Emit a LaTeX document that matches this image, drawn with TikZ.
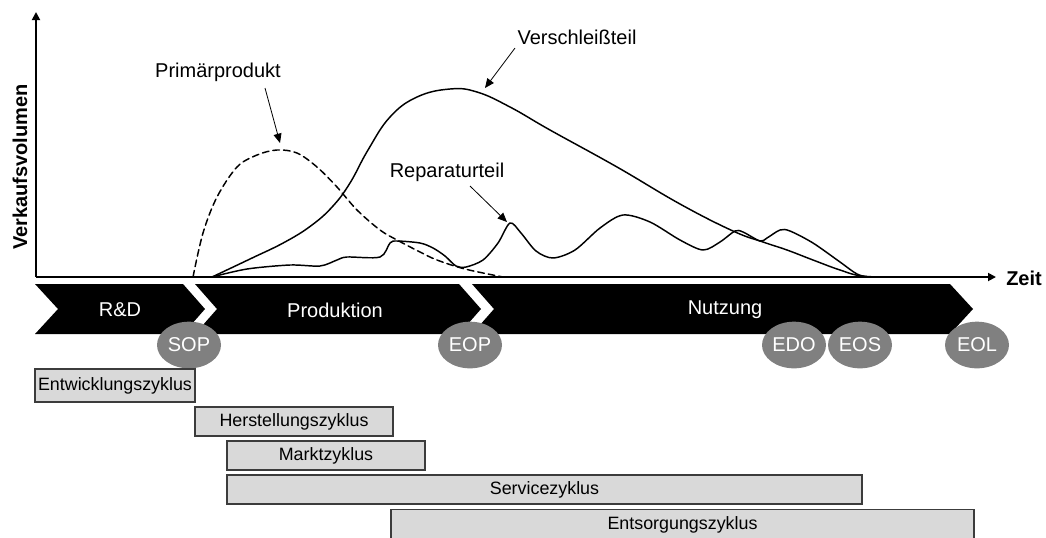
\documentclass[tikz,border=0pt]{standalone}
\usepackage{fontspec}
\setmainfont{Liberation Sans}
\usetikzlibrary{arrows.meta,shapes.geometric}
\definecolor{milestonefill}{HTML}{808080}
\definecolor{barfill}{HTML}{D9D9D9}
\definecolor{barline}{HTML}{3C3C3C}
\begin{document}
\begin{tikzpicture}[x=0.75pt,y=-0.75pt,
  font=\fontsize{15}{18}\selectfont,
  phase/.style={fill=black},
  phaselabel/.style={text=white, inner sep=0},
  milestone/.style={ellipse, fill=milestonefill, text=white, minimum width=48pt, minimum height=35pt, inner sep=0},
  cyclebox/.style={draw=barline, fill=barfill, line width=1.1pt, inner sep=0, font=\fontsize{13.4}{16}\selectfont},
  curve/.style={line width=1.1pt, line join=round, line cap=round},
  callout/.style={line width=0.6pt, -{Triangle[length=7pt,width=6pt]}},
  axis/.style={line width=1.3pt, -{Triangle[length=6pt,width=6pt]}}]

\useasboundingbox (0,0) rectangle (1046,537);

% axes
\coordinate (origin) at (36,277);
\coordinate (ytip) at (36,12);
\coordinate (xtip) at (996,277);
\draw[axis] (origin) -- (ytip);
\draw[axis] (origin) -- (xtip);
\node[font=\fontsize{15}{18}\selectfont\bfseries, anchor=west, inner sep=0] (zeit) at (1006,278) {Zeit};
\node[font=\fontsize{15}{18}\selectfont\bfseries, rotate=90, inner sep=0] (vol) at (20,167) {Verkaufsvolumen};

% sales curves
\draw[curve, dash pattern=on 5pt off 3pt] plot[smooth, tension=0.55] coordinates {
  (193,277) (203,233) (217,197) (237,167) (257,155) (277,150) (297,153) (317,167)
  (337,187) (357,210) (380,230) (397,240) (420,252) (437,260) (465,269) (503,277)};
\draw[curve] plot[smooth, tension=0.7] coordinates {
  (212,277) (250,259) (285,242) (312,225) (333,206) (350,183) (368,150) (390,117)
  (417,97) (450,89) (477,92) (510,107) (550,130) (617,167) (680,204) (733,231)
  (763,242) (787,250) (813,260) (840,270) (862,276) (893,277)};
\draw[curve] plot[smooth, tension=0.5] coordinates {
  (212,277) (247,269) (290,265) (320,266) (337,260) (347,257) (380,257)
  (390,243) (397,241) (420,243) (433,248) (445,256) (456,266) (466,267) (483,260)
  (498,243) (510,223) (521,233) (536,251) (553,258) (575,250) (600,228) (623,215)
  (650,222) (680,240) (703,250) (720,242) (735,231) (743,232) (760,241) (767,238)
  (780,230) (790,231) (813,243) (840,262) (857,274) (870,277) (893,277)};

% curve labels
\node[inner sep=0] (lblP) at (218,72) {Primärprodukt};
\node[inner sep=0] (lblV) at (577,37) {Verschleißteil};
\node[inner sep=0] (lblR) at (447,172) {Reparaturteil};
\coordinate (pFrom) at (265,88);  \coordinate (pTo) at (280,143);
\coordinate (vFrom) at (515,48);  \coordinate (vTo) at (485,88);
\coordinate (rFrom) at (470,186); \coordinate (rTo) at (507,222);
\draw[callout] (pFrom) -- (pTo);
\draw[callout] (vFrom) -- (vTo);
\draw[callout] (rFrom) -- (rTo);

% phase chevrons
\fill[phase] (35,284) -- (183,284) -- (205,309) -- (183,334) -- (35,334) -- (58,309) -- cycle;
\fill[phase] (195,284) -- (459,284) -- (481,309) -- (459,334) -- (195,334) -- (217,309) -- cycle;
\fill[phase] (472,284) -- (950,284) -- (973,309) -- (950,334) -- (472,334) -- (494,309) -- cycle;
\node[phaselabel] (rd) at (120,310) {R\&D};
\node[phaselabel] (prod) at (335,310) {Produktion};
\node[phaselabel] (nutz) at (725,310) {Nutzung};

% milestones
\node[milestone] (sop) at (189,345) {SOP};
\node[milestone] (eop) at (470,345) {EOP};
\node[milestone] (edo) at (794,345) {EDO};
\node[milestone] (eos) at (860,345) {EOS};
\node[milestone] (eol) at (977,345) {EOL};

% cycle bars
\node[cyclebox, minimum width=120pt, minimum height=24.75pt] (dev) at (115,385.5) {Entwicklungszyklus};
\node[cyclebox, minimum width=148.5pt, minimum height=21.75pt] (mfg) at (294,421.5) {Herstellungszyklus};
\node[cyclebox, minimum width=148.5pt, minimum height=21.75pt] (mkt) at (326,455.5) {Marktzyklus};
\node[cyclebox, minimum width=476.25pt, minimum height=21.75pt] (svc) at (544.5,489.5) {Servicezyklus};
\node[cyclebox, minimum width=437.25pt, minimum height=23pt] (dsp) at (682.5,525) {Entsorgungszyklus};
\end{tikzpicture}
\end{document}
